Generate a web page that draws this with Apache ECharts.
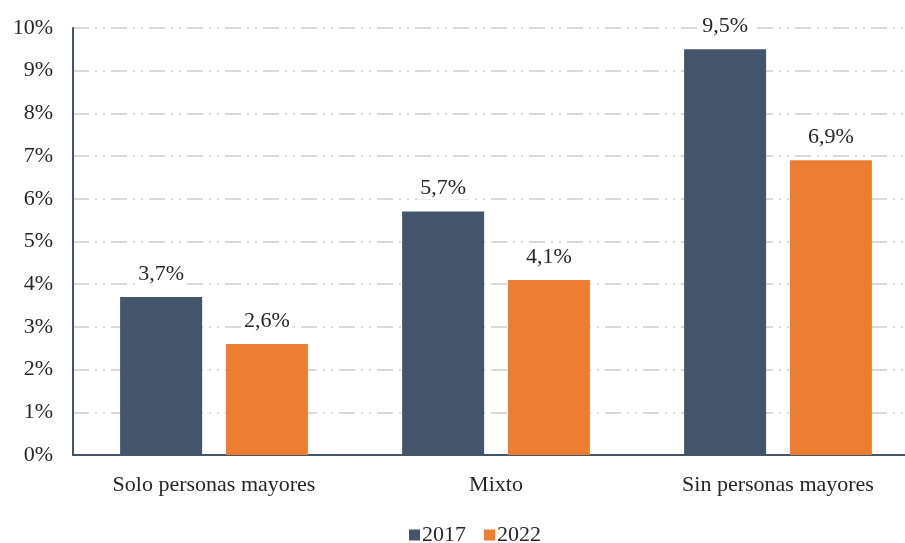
<!DOCTYPE html>
<html><head><meta charset="utf-8">
<script src="https://cdn.jsdelivr.net/npm/echarts@6/dist/echarts.min.js"></script>
<style>html,body{margin:0;padding:0;background:#fff}#c{width:905px;height:543px}</style>
</head><body><div id="c"></div>
<script>
const categories = ["Solo personas mayores", "Mixto", "Sin personas mayores"];
const seriesNames = ["2017", "2022"];
const values2017 = [3.7, 5.7, 9.5];
const values2022 = [2.6, 4.1, 6.9];
const yTicks = [0, 1, 2, 3, 4, 5, 6, 7, 8, 9, 10];

const FONT = "Liberation Serif";
const chart = echarts.init(document.getElementById('c'), null, {renderer: 'canvas'});
const fmt = v => String(v).replace('.', ',') + '%';
const labelCfg = {
  show: true, position: 'top', distance: 12,
  fontFamily: FONT, fontSize: 22, color: '#262626',
  backgroundColor: '#fff', padding: [0, 3],
  formatter: p => fmt(p.value)
};
chart.setOption({
  animation: false,
  textStyle: {fontFamily: FONT},
  grid: {left: 73, top: 28, width: 846, height: 427, containLabel: false, outerBoundsMode: 'none'},
  legend: {
    top: 519, left: 404, itemWidth: 11, itemHeight: 11, itemGap: 18,
    icon: 'rect',
    textStyle: {fontFamily: FONT, fontSize: 22, color: '#262626', padding: [0, 0, 0, -3]},
    data: seriesNames
  },
  xAxis: {
    type: 'category', data: categories,
    axisLine: {lineStyle: {color: '#44546A', width: 2}},
    axisTick: {show: false},
    axisLabel: {fontFamily: FONT, fontSize: 22, color: '#262626', margin: 19}
  },
  yAxis: {
    type: 'value', min: yTicks[0], max: yTicks[yTicks.length - 1], interval: 1,
    axisLine: {show: true, lineStyle: {color: '#44546A', width: 2}},
    axisTick: {show: false},
    axisLabel: {fontFamily: FONT, fontSize: 22, color: '#262626', margin: 20,
      formatter: v => v + '%'},
    splitLine: {lineStyle: {color: '#D9D9D9', width: 2, type: [16, 6, 2, 6, 2, 6]}}
  },
  series: [
    {name: seriesNames[0], type: 'bar', data: values2017, barWidth: 82, barGap: '29%',
      itemStyle: {color: '#44546A'}, label: labelCfg, z: 3},
    {name: seriesNames[1], type: 'bar', data: values2022, barWidth: 82,
      itemStyle: {color: '#ED7D31'}, label: labelCfg, z: 3}
  ]
});
</script></body></html>
